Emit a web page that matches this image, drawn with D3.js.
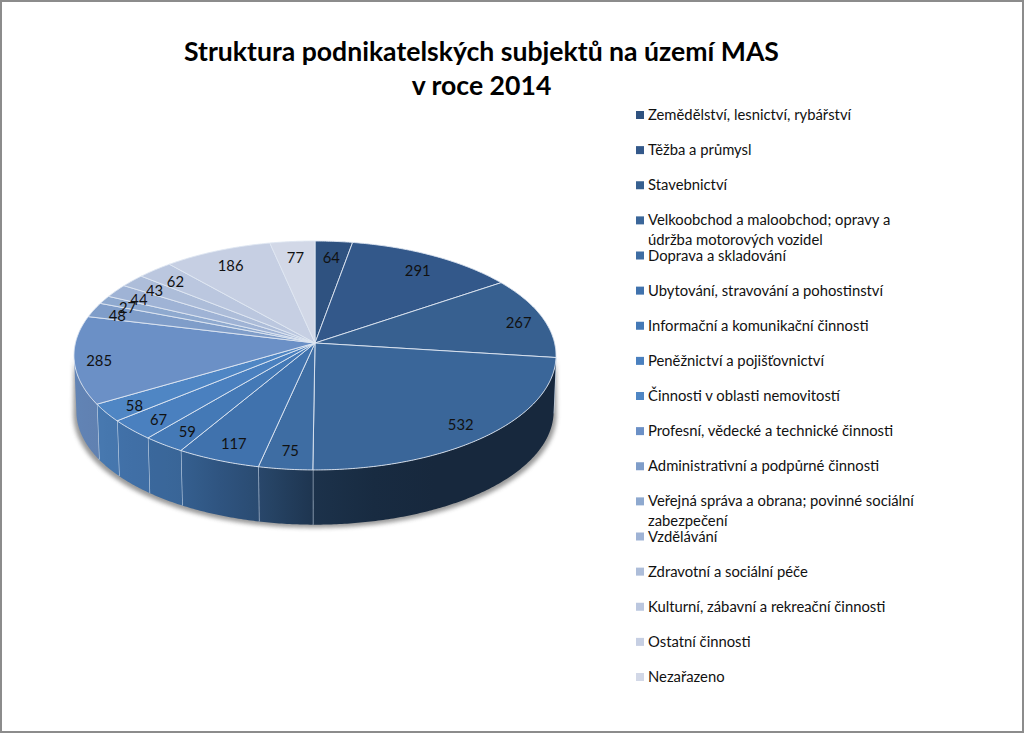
<!DOCTYPE html>
<html>
<head>
<meta charset="utf-8">
<script src="https://cdn.jsdelivr.net/npm/d3@7/dist/d3.min.js"></script>
<style>
html, body { margin: 0; padding: 0; background: #fff; }
svg { display: block; }
text { font-family: Lato, "Open Sans", sans-serif; fill: #111; }
</style>
</head>
<body>
<div id="graph"></div>
<script>
var categories = [
    "Zemědělství, lesnictví, rybářství",
    "Těžba a průmysl",
    "Stavebnictví",
    "Velkoobchod a maloobchod; opravy a|údržba motorových vozidel",
    "Doprava a skladování",
    "Ubytování, stravování a pohostinství",
    "Informační a komunikační činnosti",
    "Peněžnictví a pojišťovnictví",
    "Činnosti v oblasti nemovitostí",
    "Profesní, vědecké a technické činnosti",
    "Administrativní a podpůrné činnosti",
    "Veřejná správa a obrana; povinné sociální|zabezpečení",
    "Vzdělávání",
    "Zdravotní a sociální péče",
    "Kulturní, zábavní a rekreační činnosti",
    "Ostatní činnosti",
    "Nezařazeno"
];
var values = [64, 291, 267, 532, 75, 117, 59, 67, 58, 285, 48, 27, 44, 43, 62, 186, 77];
var colors = ["#2f5280", "#33588a", "#376090", "#3a6699", "#3e6da3", "#4072ad", "#4479b6", "#4a80bf",
    "#4f86c4", "#6b90c6", "#7f9dc9", "#8ea9cf", "#9fb3d5", "#adbdd9", "#bbc7df", "#c6cfe3", "#d2d8e7"];
var titleLines = ["Struktura podnikatelských subjektů na území MAS", "v roce 2014"];

var width = 1024, height = 733;

// tilted disc, far side is squeezed
var cx = 315, cy = 343, rx = 239.6, ry = 113.1, persp = 0.109, wallDrop = 56, wallScale = 0.99;

function project(a, r, lower) {
    var X = r * Math.sin(a), Z = r * Math.cos(a), w = 1 + persp * Z;
    var s = lower ? wallScale : 1;
    return [cx + rx * s * X / w, cy + (lower ? wallDrop : 0) - ry * s * Z / w];
}

function rim(a0, a1, lower) {
    var n = Math.max(2, Math.ceil((a1 - a0) / 0.01));
    return d3.range(n + 1).map(function (i) { return project(a0 + (a1 - a0) * i / n, 1, lower); });
}

// labels sit further out towards the sides of the disc
function labelPos(d) {
    var a = (d.startAngle + d.endAngle) / 2;
    return project(a, 0.85 + 0.05 * Math.pow(Math.abs(Math.sin(a)), 4), false);
}

var line = d3.line();
var pie = d3.pie().sort(null).value(function (d) { return d; });
var arcs = pie(values);

var svg = d3.select("#graph").append("svg")
    .attr("width", width)
    .attr("height", height);

svg.append("rect")
    .attr("x", 1).attr("y", 1)
    .attr("width", width - 2).attr("height", height - 2)
    .attr("fill", "#fff").attr("stroke", "#8c8c8c").attr("stroke-width", 2);

var defs = svg.append("defs");
var blur = defs.append("filter").attr("id", "shadow")
    .attr("x", "-10%").attr("y", "-10%").attr("width", "120%").attr("height", "120%");
blur.append("feGaussianBlur").attr("stdDeviation", 2);

svg.selectAll(".title")
    .data(titleLines)
    .enter().append("text")
    .attr("class", "title")
    .attr("x", 481.5)
    .attr("y", function (d, i) { return 61 + i * 34; })
    .attr("text-anchor", "middle")
    .style("font-size", "26.6px")
    .style("font-weight", 700)
    .style("fill", "#000")
    .text(function (d) { return d; });

// visible part of the side wall
var wallStart = Math.PI - Math.acos(persp), wallEnd = Math.PI + Math.acos(persp);

// wall gets darker to the right
var shade = d3.scaleLinear()
    .domain([75, 180, 260, 313, 400, 556])
    .range([0.25, 0.5, 1.2, 2.0, 2.6, 2.6])
    .clamp(true);

var shadow = rim(wallStart, wallEnd, true).map(function (p) { return [p[0] + (p[0] > cx ? 3 : -3), p[1] + 3]; });
svg.append("path")
    .attr("d", line(rim(wallStart, wallEnd, false).concat(shadow.reverse())))
    .attr("fill", "#777")
    .attr("opacity", 0.75)
    .attr("filter", "url(#shadow)");

var walls = svg.append("g");
arcs.forEach(function (d, i) {
    var a0 = Math.max(d.startAngle, wallStart), a1 = Math.min(d.endAngle, wallEnd);
    if (a1 <= a0) return;
    var top = rim(a0, a1, false), bottom = rim(a0, a1, true);
    var xs = d3.extent(top.concat(bottom), function (p) { return p[0]; });
    var grad = defs.append("linearGradient")
        .attr("id", "wall" + i)
        .attr("gradientUnits", "userSpaceOnUse")
        .attr("x1", xs[0]).attr("x2", xs[1]).attr("y1", 0).attr("y2", 0);
    [0, 0.25, 0.5, 1].forEach(function (t) {
        var x = xs[0] + (xs[1] - xs[0]) * t;
        grad.append("stop")
            .attr("offset", t)
            .attr("stop-color", d3.color(colors[i]).darker(shade(x)).formatHex());
    });
    walls.append("path")
        .attr("d", line(top.concat(bottom.reverse())) + "Z")
        .attr("fill", "url(#wall" + i + ")");
    // seam on the wall
    if (d.endAngle > wallStart && d.endAngle < wallEnd) {
        walls.append("path")
            .attr("d", line([project(d.endAngle, 1, false), project(d.endAngle, 1, true)]))
            .attr("stroke", "#c9d8ea")
            .attr("stroke-width", 1.2)
            .attr("fill", "none");
    }
});

svg.selectAll(".slice")
    .data(arcs)
    .enter().append("path")
    .attr("class", "slice")
    .attr("d", function (d) {
        return line([[cx, cy]].concat(rim(d.startAngle, d.endAngle, false))) + "Z";
    })
    .attr("fill", function (d, i) { return colors[i]; })
    .attr("stroke", "#dfe7f2")
    .attr("stroke-width", 0.9)
    .attr("stroke-linejoin", "round");

svg.selectAll(".val")
    .data(arcs)
    .enter().append("text")
    .attr("class", "val")
    .attr("x", function (d) { return labelPos(d)[0]; })
    .attr("y", function (d) { return labelPos(d)[1] + 8; })
    .attr("text-anchor", "middle")
    .style("font-size", "14.8px")
    .text(function (d) { return d.data; });

// legend
var legendY = d3.scalePoint().domain(categories).range([115, 677]);
var legend = svg.selectAll(".legend")
    .data(categories)
    .enter().append("g")
    .attr("class", "legend")
    .attr("transform", function (d) { return "translate(636," + legendY(d) + ")"; });

legend.append("rect")
    .attr("x", 0).attr("y", -4)
    .attr("width", 8).attr("height", 8)
    .attr("fill", function (d, i) { return colors[i]; });

legend.each(function (d) {
    d3.select(this).selectAll("text")
        .data(d.split("|"))
        .enter().append("text")
        .attr("x", 12)
        .attr("y", function (t, j) { return 5 + j * 20; })
        .style("font-size", "14.8px")
        .text(function (t) { return t; });
});
</script>
</body>
</html>
